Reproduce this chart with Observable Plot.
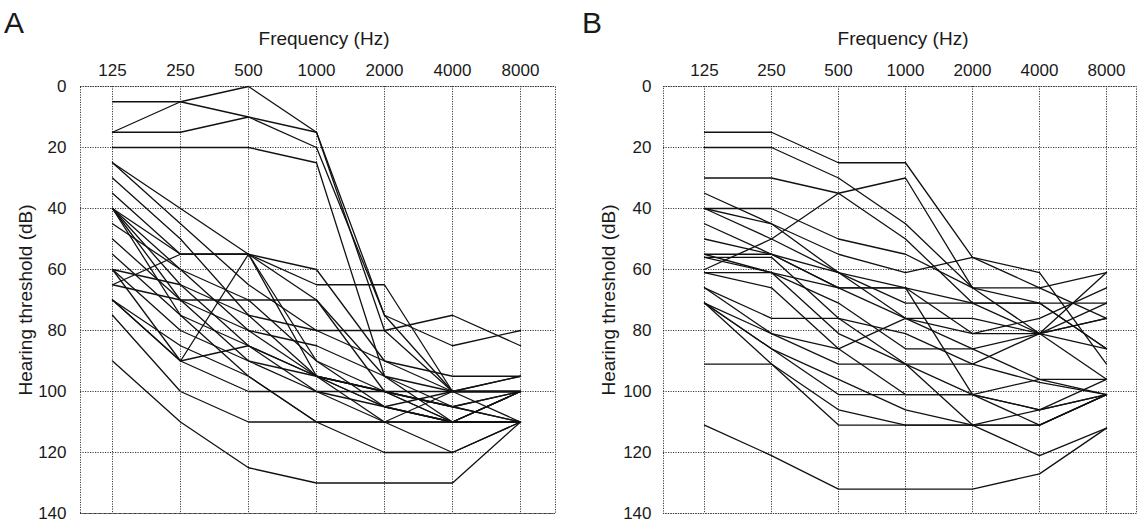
<!DOCTYPE html>
<html><head><meta charset="utf-8">
<script src="https://cdn.jsdelivr.net/npm/d3@7"></script>
<script src="https://cdn.jsdelivr.net/npm/@observablehq/plot@0.6"></script>
<style>
body{margin:0;background:#fff;font-family:"Liberation Sans",Arial,sans-serif;}
#wrap{position:relative;width:1138px;height:522px;overflow:hidden;background:#fff;}
.panel{position:absolute;top:0;}
.lbl{position:absolute;color:#1a1a1a;white-space:nowrap;line-height:1;}
.ytitle{transform:translate(-50%,-50%) rotate(-90deg);}
.xtitle{transform:translate(-50%,-50%);}
</style></head><body><div id="wrap"></div>
<script>
const frequencies = ["125","250","500","1000","2000","4000","8000"];
const yTicks = [0, 20, 40, 60, 80, 100, 120, 140];
const panelTitles = ["A", "B"];
const xTitle = "Frequency (Hz)";
const yTitle = "Hearing threshold (dB)";

// Panel A: one array per ear/subject, thresholds (dB) at 125..8000 Hz
const panelA = [
  [5, 5, 0, 15, 75, 85, 80],
  [15, 5, 10, 15, 80, 100, 110],
  [15, 15, 10, 20, 75, 100, 100],
  [20, 20, 20, 25, 95, 105, 110],
  [25, 40, 55, 70, 95, 110, 110],
  [25, 45, 65, 80, 80, 75, 85],
  [30, 50, 75, 95, 105, 110, 100],
  [35, 55, 55, 60, 90, 100, 100],
  [40, 55, 55, 90, 105, 110, 110],
  [40, 60, 80, 95, 100, 105, 100],
  [40, 65, 85, 95, 110, 120, 110],
  [40, 70, 90, 100, 105, 100, 95],
  [40, 75, 95, 110, 110, 110, 100],
  [45, 60, 70, 90, 100, 110, 110],
  [50, 70, 80, 85, 95, 100, 100],
  [55, 75, 85, 100, 110, 110, 110],
  [60, 90, 55, 95, 100, 105, 100],
  [65, 70, 70, 70, 100, 105, 110],
  [65, 55, 55, 65, 65, 100, 100],
  [60, 65, 75, 80, 90, 95, 95],
  [70, 90, 85, 95, 105, 110, 100],
  [70, 85, 95, 110, 110, 100, 100],
  [75, 100, 110, 110, 120, 120, 110],
  [90, 110, 125, 130, 130, 130, 110],
  [70, 90, 100, 100, 100, 110, 100],
  [60, 80, 90, 95, 100, 100, 95]
];

// Panel B
const panelB = [
  [15, 15, 25, 25, 56, 61, 91],
  [20, 20, 30, 45, 66, 81, 96],
  [30, 30, 35, 50, 71, 81, 86],
  [60, 50, 35, 30, 66, 71, 86],
  [35, 45, 55, 61, 56, 66, 76],
  [40, 40, 50, 55, 66, 66, 61],
  [40, 45, 61, 71, 71, 71, 71],
  [40, 50, 61, 66, 81, 81, 61],
  [45, 55, 66, 76, 81, 76, 66],
  [50, 55, 66, 66, 101, 96, 96],
  [55, 55, 61, 76, 86, 81, 76],
  [55, 61, 71, 86, 86, 96, 101],
  [56, 56, 76, 91, 91, 81, 71],
  [56, 61, 81, 91, 101, 106, 101],
  [61, 66, 86, 101, 101, 111, 101],
  [61, 61, 66, 66, 71, 71, 86],
  [66, 76, 76, 81, 91, 97, 101],
  [71, 81, 91, 91, 111, 121, 112],
  [71, 86, 96, 106, 111, 111, 101],
  [71, 86, 101, 101, 101, 106, 96],
  [91, 91, 106, 111, 111, 111, 101],
  [111, 121, 132, 132, 132, 127, 112],
  [66, 81, 86, 76, 76, 81, 76],
  [71, 91, 111, 111, 111, 106, 101]
];

function toLong(series) {
  const out = [];
  series.forEach((s, i) => s.forEach((v, j) => out.push({id: i, freq: frequencies[j], db: v})));
  return out;
}

const gridStyle = {stroke: "#3a3a3a", strokeOpacity: 1, strokeWidth: 1, strokeDasharray: "1.2,1.3"};

function makePanel(series, cfg) {
  return Plot.plot({
    width: 569, height: 522,
    marginLeft: cfg.ml, marginRight: cfg.mr, marginTop: 86, marginBottom: 9,
    style: {fontFamily: "'Liberation Sans', Arial, sans-serif", fontSize: "17px", color: "#1a1a1a", background: "transparent", overflow: "visible"},
    x: {type: "point", domain: frequencies, range: cfg.xr, padding: 0},
    y: {domain: [0, 140], range: [86, 513]},
    marks: [
      Plot.gridX(frequencies, gridStyle),
      Plot.gridY(yTicks, gridStyle),
      Plot.frame(gridStyle),
      Plot.axisX(frequencies, {anchor: "top", tickSize: 0, tickPadding: 11, label: null, fontSize: 17}),
      Plot.axisY(yTicks, {anchor: "left", tickSize: 0, tickPadding: cfg.yp, label: null, fontSize: 17}),
      Plot.line(toLong(series), {x: "freq", y: "db", z: "id", stroke: "#111", strokeWidth: 1.3})
    ]
  });
}

const wrap = document.getElementById("wrap");
const configs = [
  {left: 0, ml: 80, mr: 14, xr: [112, 520], yp: 14, data: panelA, title: panelTitles[0], tx: 4, xtx: 324, ytx: 25},
  {left: 569, ml: 94, mr: 2, xr: [132, 539], yp: 12, data: panelB, title: panelTitles[1], tx: 582, xtx: 903, ytx: 608}
];
for (const c of configs) {
  const svg = makePanel(c.data, c);
  svg.classList.add("panel");
  svg.style.left = c.left + "px";
  wrap.appendChild(svg);
  const t = document.createElement("div");
  t.className = "lbl"; t.textContent = c.title;
  t.style.left = c.tx + "px"; t.style.top = "8px"; t.style.fontSize = "30px";
  wrap.appendChild(t);
  const xt = document.createElement("div");
  xt.className = "lbl xtitle"; xt.textContent = xTitle;
  xt.style.left = c.xtx + "px"; xt.style.top = "38px"; xt.style.fontSize = "19px";
  wrap.appendChild(xt);
  const yt = document.createElement("div");
  yt.className = "lbl ytitle"; yt.textContent = yTitle;
  yt.style.left = c.ytx + "px"; yt.style.top = "300px"; yt.style.fontSize = "19px";
  wrap.appendChild(yt);
}
</script></body></html>
